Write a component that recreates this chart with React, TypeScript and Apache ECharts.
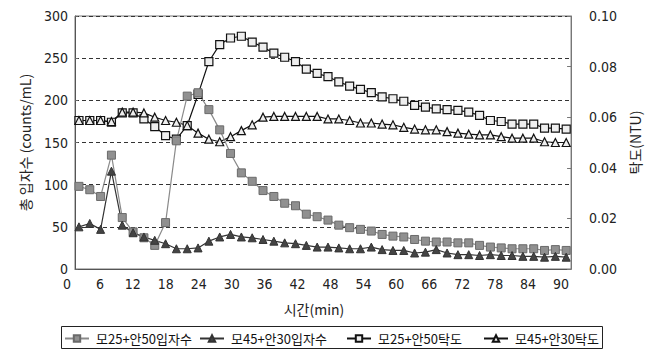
import React, { useEffect, useRef } from "react";
import * as echarts from "echarts";

// time (min)
const times = [2, 4, 6, 8, 10, 12, 14, 16, 18, 20, 22, 24, 26, 28, 30, 32, 34, 36, 38, 40, 42, 44, 46, 48, 50, 52, 54, 56, 58, 60, 62, 64, 66, 68, 70, 72, 74, 76, 78, 80, 82, 84, 86, 88, 90, 92];

// 총 입자수 (counts/mL)
const particlesA = [98, 94, 86, 135, 61, 44, 37, 28, 55, 152, 205, 209, 189, 165, 137, 114, 104, 93, 86, 78, 75, 65, 62, 58, 52, 49, 47, 45, 41, 39, 38, 35, 33, 32, 32, 31, 31, 28, 26, 25, 24, 24, 24, 22, 23, 22];
const particlesB = [50, 54, 47, 116, 52, 43, 38, 34, 30, 24, 24, 25, 33, 38, 41, 38, 37, 35, 33, 31, 30, 28, 26, 26, 25, 24, 24, 26, 23, 22, 22, 19, 20, 23, 19, 17, 17, 16, 17, 16, 16, 15, 15, 14, 15, 14];

// 탁도 (NTU)
const turbidityC = [0.0587, 0.0587, 0.0587, 0.058, 0.0617, 0.0617, 0.0593, 0.0563, 0.0527, 0.0513, 0.0567, 0.069, 0.082, 0.0887, 0.0913, 0.092, 0.0897, 0.0877, 0.0853, 0.0837, 0.082, 0.079, 0.0773, 0.076, 0.074, 0.0723, 0.071, 0.0697, 0.068, 0.0673, 0.0663, 0.0647, 0.064, 0.0633, 0.063, 0.0627, 0.062, 0.0607, 0.0587, 0.0583, 0.0573, 0.0573, 0.0573, 0.0557, 0.0557, 0.0553];
const turbidityD = [0.0587, 0.0587, 0.0587, 0.0583, 0.062, 0.062, 0.0617, 0.06, 0.0587, 0.058, 0.0567, 0.0537, 0.0513, 0.0503, 0.0523, 0.0547, 0.057, 0.06, 0.0603, 0.0603, 0.0603, 0.0603, 0.0603, 0.0593, 0.0593, 0.0587, 0.0577, 0.0577, 0.0573, 0.057, 0.056, 0.0553, 0.055, 0.055, 0.0543, 0.0537, 0.0533, 0.053, 0.053, 0.0523, 0.0517, 0.0517, 0.0517, 0.0503, 0.05, 0.05];

const seriesNames = ["모25+안50입자수", "모45+안30입자수", "모25+안50탁도", "모45+안30탁도"];
const xTickStep = 6;
const leftTickStep = 50;
const rightTickStep = 0.02;

export default function App() {
  const ref = useRef<HTMLDivElement>(null);
  useEffect(() => {
    const chart = echarts.init(ref.current!, null, { renderer: "svg" });
    const pair = (arr: number[]) => times.map((t, i) => [t, arr[i]]);
    const numFont = "'Liberation Sans Narrow','Arial Narrow','DejaVu Sans Condensed','Liberation Sans',Arial,sans-serif";
    const krFont = "'Noto Sans CJK KR','Noto Sans',sans-serif";
    const legendBase = {
      top: 332,
      itemWidth: 24,
      itemHeight: 8,
      padding: 0,
      selectedMode: false,
      textStyle: { fontFamily: krFont, fontSize: 13, color: "#111", padding: [0, 0, 0, 2] },
    };
    const option = {
      animation: false,
      backgroundColor: "#ffffff",
      grid: [
        { left: 75, top: 16, width: 503, height: 253, show: true, borderColor: "#777", borderWidth: 1, backgroundColor: "transparent" },
        { left: 67, top: 16, width: 494, height: 253 },
      ],
      xAxis: [
        {
          type: "value", gridIndex: 0, min: 1.27, max: 92.9,
          axisLine: { show: true, lineStyle: { color: "#555", width: 1 } },
          axisTick: { show: false }, axisLabel: { show: false }, splitLine: { show: false },
        },
        {
          type: "value", gridIndex: 1, min: 0, max: 90, interval: xTickStep,
          axisLine: { show: false }, axisTick: { show: false }, splitLine: { show: false },
          axisLabel: { margin: 8, fontSize: 14, fontFamily: numFont, color: "#222" },
          name: "시간(min)", nameLocation: "middle", nameGap: 33,
          nameTextStyle: { fontFamily: krFont, fontSize: 14, color: "#222" },
        },
      ],
      yAxis: [
        {
          type: "value", gridIndex: 0, position: "left", min: 0, max: 300, interval: leftTickStep,
          axisLine: { show: true, lineStyle: { color: "#555" } },
          axisTick: { show: true, inside: true, length: 3, lineStyle: { color: "#666" } },
          axisLabel: { margin: 7, fontSize: 14, fontFamily: numFont, color: "#222" },
          splitLine: { show: true, lineStyle: { color: "#333", type: [4, 3], width: 1 } },
          name: "총 입자수 (counts/mL)", nameLocation: "middle", nameGap: 43, nameRotate: 90,
          nameTextStyle: { fontFamily: krFont, fontSize: 14, color: "#222" },
        },
        {
          type: "value", gridIndex: 0, position: "right", min: 0, max: 0.1, interval: rightTickStep,
          axisLine: { show: true, lineStyle: { color: "#777" } },
          axisTick: { show: true, inside: true, length: 4, lineStyle: { color: "#777" } },
          axisLabel: { margin: 18, fontSize: 14, fontFamily: numFont, color: "#222", formatter: (v: number) => v.toFixed(2) },
          splitLine: { show: false },
          name: "탁도(NTU)", nameLocation: "middle", nameGap: 48, nameRotate: 90,
          nameTextStyle: { fontFamily: krFont, fontSize: 14, color: "#222" },
        },
        { type: "value", gridIndex: 1, show: false, min: 0, max: 1 },
      ],
      legend: [
        { ...legendBase, left: 64, data: [seriesNames[0]] },
        { ...legendBase, left: 199, data: [seriesNames[1]] },
        { ...legendBase, left: 346, data: [seriesNames[2]] },
        { ...legendBase, left: 483, data: [seriesNames[3]] },
      ],
      graphic: [
        { type: "rect", shape: { x: 61.5, y: 326.5, width: 541, height: 22 }, style: { fill: "none", stroke: "#222", lineWidth: 1 }, silent: true },
      ],
      series: [
        {
          name: seriesNames[2], type: "line", xAxisIndex: 0, yAxisIndex: 1, data: pair(turbidityC),
          symbol: "rect", symbolSize: 8,
          lineStyle: { color: "#111", width: 1.2 },
          itemStyle: { color: "#eeeeee", borderColor: "#111", borderWidth: 1.2 },
        },
        {
          name: seriesNames[3], type: "line", xAxisIndex: 0, yAxisIndex: 1, data: pair(turbidityD),
          symbol: "triangle", symbolSize: 8,
          lineStyle: { color: "#111", width: 1.2 },
          itemStyle: { color: "#eeeeee", borderColor: "#111", borderWidth: 1.2 },
        },
        {
          name: seriesNames[0], type: "line", xAxisIndex: 0, yAxisIndex: 0, data: pair(particlesA),
          symbol: "rect", symbolSize: 8,
          lineStyle: { color: "#8a8a8a", width: 1.2 },
          itemStyle: { color: "#909090", borderColor: "#6a6a6a", borderWidth: 1 },
        },
        {
          name: seriesNames[1], type: "line", xAxisIndex: 0, yAxisIndex: 0, data: pair(particlesB),
          symbol: "triangle", symbolSize: 8,
          lineStyle: { color: "#333", width: 1.2 },
          itemStyle: { color: "#444", borderColor: "#333", borderWidth: 1 },
        },
      ],
    };
    chart.setOption(option as any);
    return () => chart.dispose();
  }, []);
  return <div ref={ref} style={{ position: "fixed", left: 0, top: 0, width: 650, height: 354 }} />;
}
